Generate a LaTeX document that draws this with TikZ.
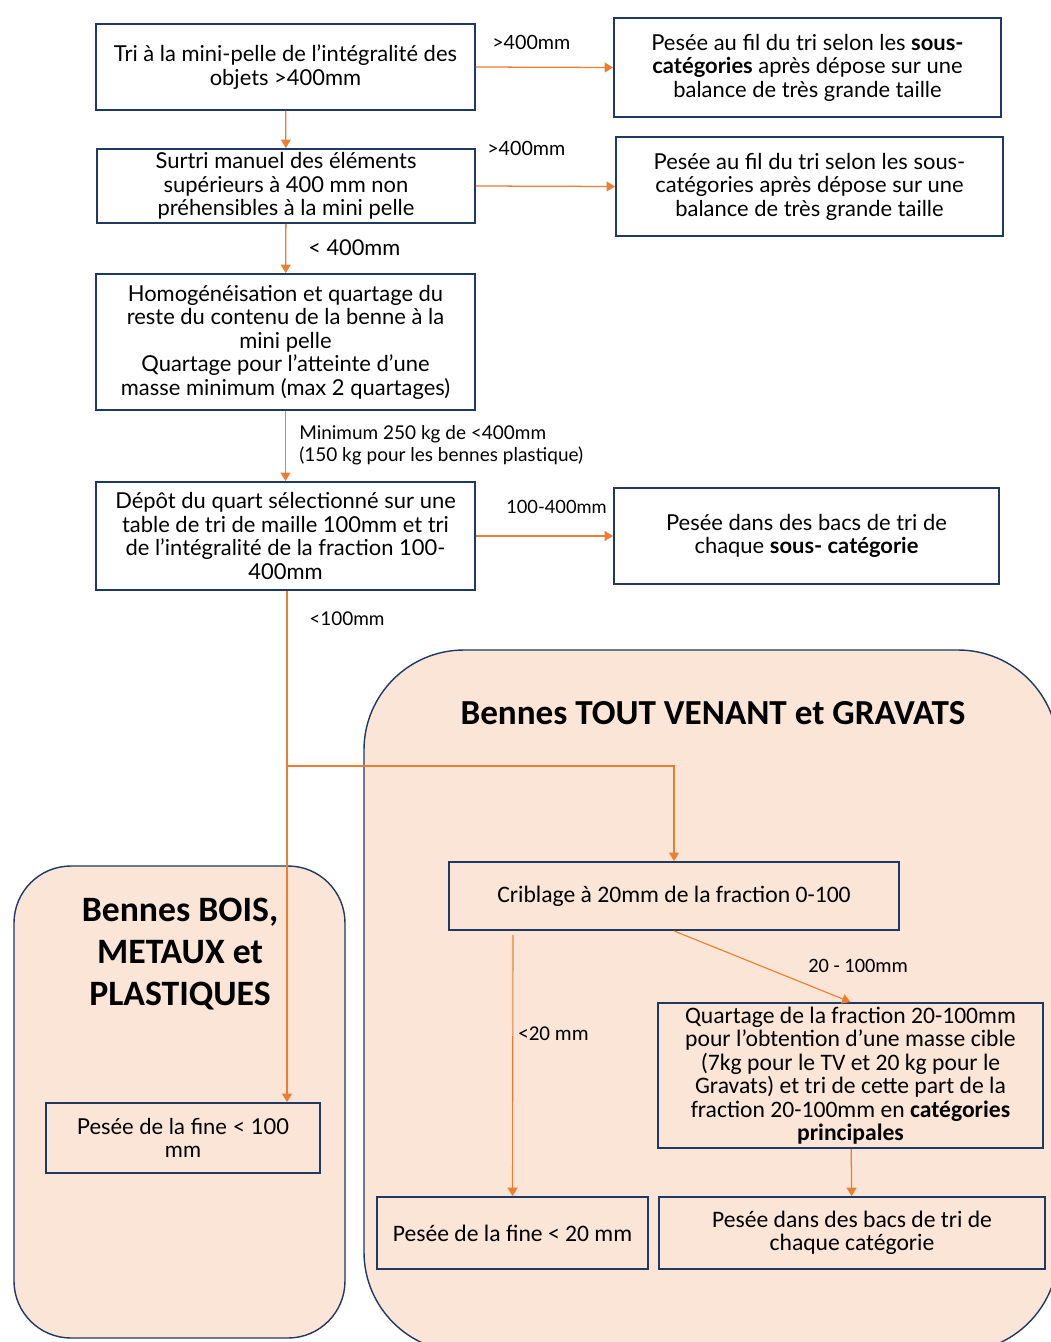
\documentclass[tikz,border=0pt]{standalone}
\usepackage{fontspec}
\setmainfont{Lato}
\newfontfamily\calib{Carlito}
\usetikzlibrary{arrows.meta}
\definecolor{navy}{HTML}{1F3864}
\definecolor{orng}{HTML}{ED7D31}
\definecolor{peach}{HTML}{FBE5D6}
\begin{document}
\begin{tikzpicture}[x=0.025cm,y=-0.025cm,
	box/.style={draw=navy,line width=1.3pt,align=center,inner sep=0pt,font=\fontsize{15.6}{16.7}\selectfont},
	cbox/.style={box,font=\calib\fontsize{16.8}{16.7}\selectfont},
	flow/.style={draw=orng,line width=0.9pt,-{Triangle[width=7pt,length=6pt]}},
	lbl/.style={anchor=west,inner sep=0pt,font=\fontsize{13.5}{15.6}\selectfont},
	clbl/.style={lbl,font=\calib\fontsize{14.5}{16}\selectfont},
	bin/.style={draw=navy,line width=1pt,fill=peach,rounded corners=2.5cm}]
		\clip (0,0) rectangle (1051,1342);
		\draw[bin] (364,650) rectangle (1058,1352);
		\draw[bin,rounded corners=1.425cm] (14,866) rectangle (345,1338);
		\node[align=center,font=\calib\bfseries\fontsize{25}{30}\selectfont] (tvtitle) at (713,713) {Bennes TOUT VENANT et GRAVATS};
		\node[align=center,font=\calib\bfseries\fontsize{25.4}{30}\selectfont] (bmptitle) at (180,954) {Bennes BOIS,\\METAUX et\\PLASTIQUES};
		\node[box,minimum width=9.475cm,minimum height=2.15cm] (tri) at (285.5,67) {Tri à la mini-pelle de l’intégralité des\\objets >400mm};
		\node[box,minimum width=9.675cm,minimum height=2.475cm] (pesee1) at (807.5,67.5) {Pesée au fil du tri selon les \textbf{sous-}\\\textbf{catégories} après dépose sur une\\balance de très grande taille};
		\node[box,minimum width=9.45cm,minimum height=1.85cm] (surtri) at (286,186) {Surtri manuel des éléments\\supérieurs à 400 mm non\\préhensibles à la mini pelle};
		\node[box,minimum width=9.675cm,minimum height=2.475cm] (pesee2) at (809.5,186.5) {Pesée au fil du tri selon les sous-\\catégories après dépose sur une\\balance de très grande taille};
		\node[box,minimum width=9.475cm,minimum height=3.4cm] (homog) at (285.5,342) {Homogénéisation et quartage du\\reste du contenu de la benne à la\\mini pelle\\Quartage pour l’atteinte d’une\\masse minimum (max 2 quartages)};
		\node[box,minimum width=9.475cm,minimum height=2.7cm] (depot) at (285.5,536) {Dépôt du quart sélectionné sur une\\table de tri de maille 100mm et tri\\de l’intégralité de la fraction 100-\\400mm};
		\node[box,minimum width=9.625cm,minimum height=2.4cm] (bacs1) at (806.5,536) {Pesée dans des bacs de tri de\\chaque \textbf{sous- catégorie}};
		\node[cbox,minimum width=11.25cm,minimum height=1.7cm] (crible) at (674,896) {Criblage à 20mm de la fraction 0-100};
		\node[cbox,minimum width=9.625cm,minimum height=3.625cm] (quart) at (850.5,1075.5) {Quartage de la fraction 20-100mm\\pour l’obtention d’une masse cible\\(7kg pour le TV et 20 kg pour le\\Gravats) et tri de cette part de la\\fraction 20-100mm en \textbf{catégories}\\\textbf{principales}};
		\node[cbox,minimum width=6.775cm,minimum height=1.8cm] (fine20) at (512.5,1233) {Pesée de la fine < 20 mm};
		\node[cbox,minimum width=9.65cm,minimum height=1.8cm] (bacs2) at (852,1233) {Pesée dans des bacs de tri de\\chaque catégorie};
		\node[box,minimum width=6.85cm,minimum height=1.75cm] (fine100) at (183,1138) {Pesée de la fine < 100\\mm};
		\coordinate (split) at (287,766);
		\coordinate (c20) at (513,935);
		\draw[flow] (tri) -- (surtri);
		\draw[flow] (tri.east) -- (pesee1.west);
		\draw[flow] (surtri.east) -- (pesee2.west);
		\draw[flow] (surtri) -- (homog);
		\draw[flow] (homog) -- (depot);
		\draw[flow] (depot.east) -- (bacs1.west);
		\draw[flow,line width=0.8pt] (depot.south -| split) -- (split |- fine100.north);
		\draw[flow,line width=0.8pt] (split) -| (crible.north);
		\draw[flow,line width=0.8pt] (crible.south) -- (quart.north);
		\draw[flow,line width=0.8pt] (c20) -- (fine20.north);
		\draw[flow] (quart) -- (bacs2);
		\node[lbl,font=\fontsize{14}{16}\selectfont] (l1) at (492,42) {>400mm};
		\node[lbl,font=\fontsize{14}{16}\selectfont] (l2) at (487,148) {>400mm};
		\node[lbl,font=\fontsize{15.5}{16}\selectfont] (l3) at (308,248) {< 400mm};
		\node[lbl,align=left] (l4) at (299,445) {Minimum 250 kg de <400mm\\(150 kg pour les bennes plastique)};
		\node[lbl,font=\fontsize{13}{16}\selectfont] (l5) at (506,507) {100-400mm};
		\node[lbl] (l6) at (309,619) {<100mm};
		\node[clbl] (l7) at (808,966) {20 - 100mm};
		\node[clbl,font=\calib\fontsize{15}{16}\selectfont] (l8) at (518,1034) {<20 mm};
\end{tikzpicture}
\end{document}
